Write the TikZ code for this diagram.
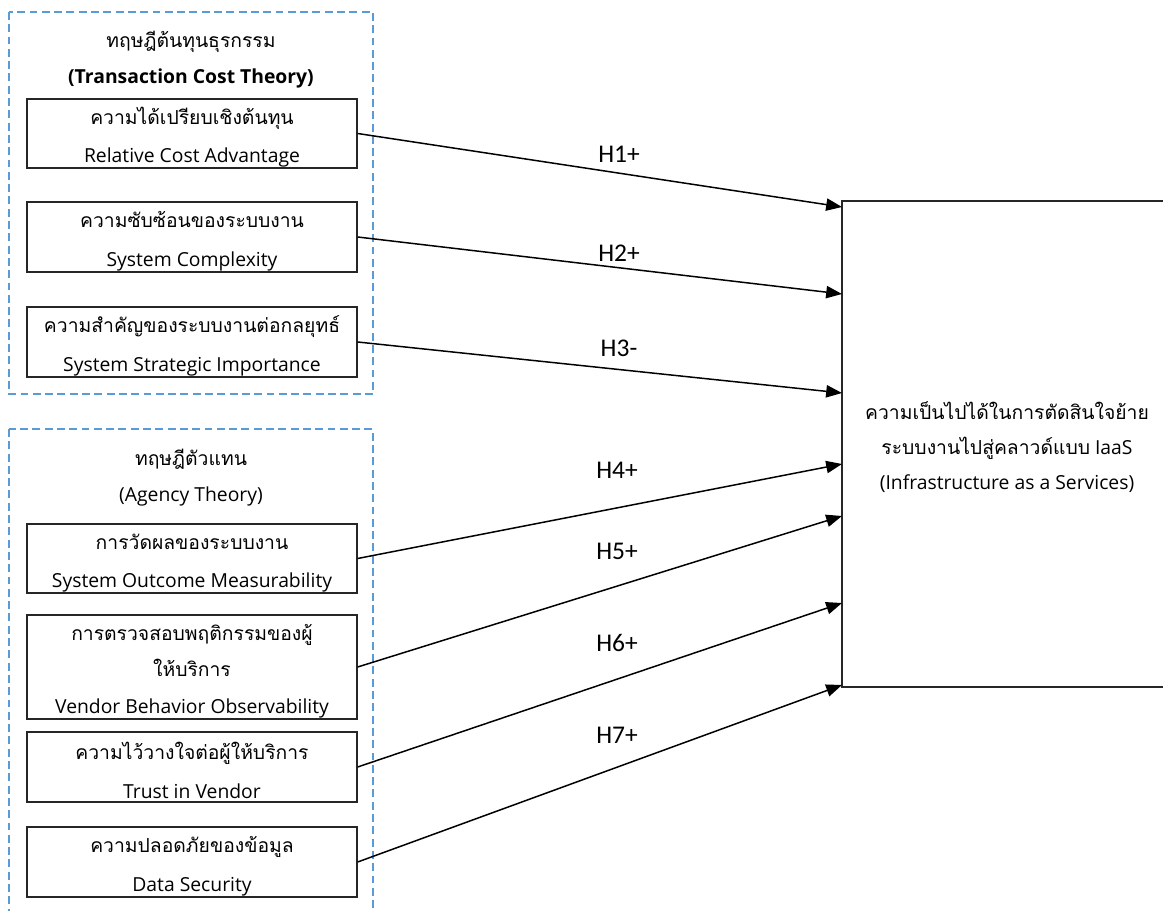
\documentclass[tikz,border=0pt]{standalone}
\usepackage{fontspec}
\setmainfont{Open Sans}
\newfontfamily\thaifont[Script=Thai]{Loma}
\newfontfamily\hypfont{Carlito}
\usetikzlibrary{arrows.meta}
\definecolor{frameblue}{RGB}{91,155,213}
\tikzstyle{factor} = [rectangle, draw=black!85, line width=0.8pt, minimum width=6.6cm, minimum height=1.4cm, text centered, align=center, inner sep=0pt, font=\fontsize{11}{22}\selectfont]
\tikzstyle{target} = [factor, minimum height=9.72cm, font=\fontsize{11}{20}\selectfont]
\tikzstyle{theory} = [draw=frameblue, line width=0.6pt, dash pattern=on 4.5pt off 2.5pt]
\tikzstyle{title} = [text centered, align=center, font=\fontsize{11}{20.5}\selectfont]
\tikzstyle{hyp} = [font=\hypfont\fontsize{14.5}{16}\selectfont]
\tikzstyle{arrow} = [line width=0.85pt, -{Triangle[length=9pt,width=7pt]}]
\newcommand{\thai}[1]{{\thaifont #1}}
\newcommand{\dropstrut}{\rule{0pt}{14pt}}

\begin{document}
\begin{tikzpicture}[x=0.02cm, y=-0.02cm]
\useasboundingbox (0,0) rectangle (1163,911);

% theory frames
\draw [theory] (9,12) rectangle (373,394);
\draw [theory] (9,429) rectangle (373,960);

\node (tct) [title] at (191,60) {\thai{ทฤษฎีต้นทุนธุรกรรม}\\\textbf{(Transaction Cost Theory)}};
\node (agt) [title] at (191,478) {\thai{ทฤษฎีตัวแทน}\\(Agency Theory)};

% factors
\node (f1) [factor, minimum height=1.38cm] at (192,133.5) {\dropstrut\thai{ความได้เปรียบเชิงต้นทุน}\\Relative Cost Advantage};
\node (f2) [factor] at (192,237) {\dropstrut\thai{ความซับซ้อนของระบบงาน}\\System Complexity};
\node (f3) [factor] at (192,342) {\dropstrut\thai{ความสำคัญของระบบงานต่อกลยุทธ์}\\System Strategic Importance};
\node (f4) [factor, minimum height=1.38cm] at (192,558.5) {\dropstrut\thai{การวัดผลของระบบงาน}\\System Outcome Measurability};
\node (f5) [factor, minimum height=2.08cm, font=\fontsize{11}{21}\selectfont] at (192,667) {\dropstrut\thai{การตรวจสอบพฤติกรรมของผู้}\\\thai{ให้บริการ}\\Vendor Behavior Observability};
\node (f6) [factor] at (192,767) {\dropstrut\thai{ความไว้วางใจต่อผู้ให้บริการ}\\Trust in Vendor};
\node (f7) [factor] at (192,862) {\dropstrut\thai{ความปลอดภัยของข้อมูล}\\Data Security};

% dependent variable
\node (iaas) [target] at (1007,444) {\dropstrut\thai{ความเป็นไปได้ในการตัดสินใจย้าย}\\\thai{ระบบงานไปสู่คลาวด์แบบ} IaaS\\(Infrastructure as a Services)};

\coordinate (t1) at (842,207);
\coordinate (t2) at (842,294);
\coordinate (t3) at (842,393);
\coordinate (t4) at (842,464);
\coordinate (t5) at (842,516);
\coordinate (t6) at (842,603);
\coordinate (t7) at (842,685);

\draw [arrow] (f1.east) -- (t1);
\draw [arrow] (f2.east) -- (t2);
\draw [arrow] (f3.east) -- (t3);
\draw [arrow] (f4.east) -- (t4);
\draw [arrow] (f5.east) -- (t5);
\draw [arrow] (f6.east) -- (t6);
\draw [arrow] (f7.east) -- (t7);

\node (h1) [hyp] at (619,154) {H1+};
\node (h2) [hyp] at (619,253) {H2+};
\node (h3) [hyp] at (619,348) {H3-};
\node (h4) [hyp] at (617,470) {H4+};
\node (h5) [hyp] at (617,551) {H5+};
\node (h6) [hyp] at (617,643) {H6+};
\node (h7) [hyp] at (617,735) {H7+};

\end{tikzpicture}
\end{document}
